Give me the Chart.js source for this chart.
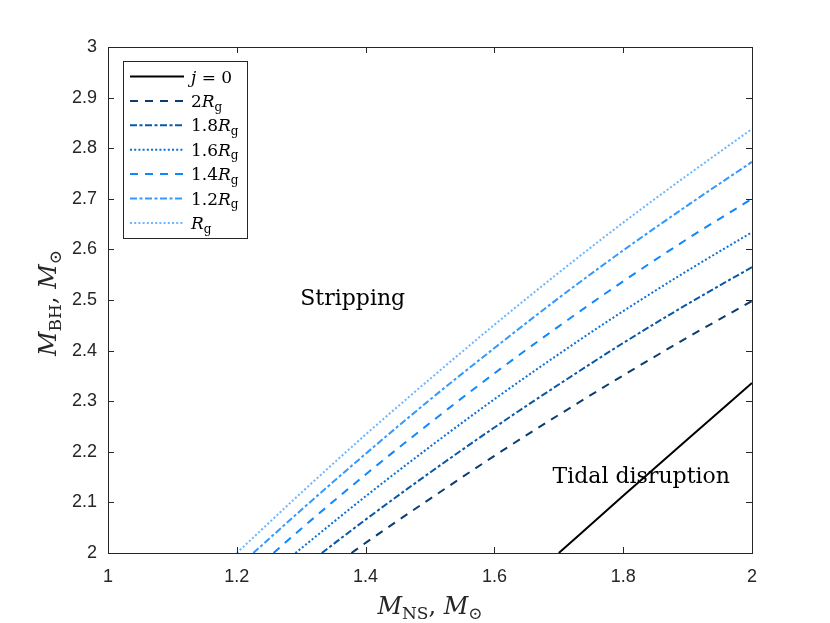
<!DOCTYPE html>
<html><head><meta charset="utf-8">
<script src="https://cdn.jsdelivr.net/npm/chart.js@4/dist/chart.umd.min.js"></script>
<style>html,body{margin:0;padding:0;background:#fff}</style>
</head><body>
<canvas id="c" width="830" height="623"></canvas>
<script>
const seriesLabels = ['j = 0', '2R_g', '1.8R_g', '1.6R_g', '1.4R_g', '1.2R_g', 'R_g'];
const x_j0   = [1.70, 1.80, 1.90, 2.00];
const y_j0   = [2.000, 2.113, 2.225, 2.336];
const x_2Rg  = [1.378, 1.4, 1.5, 1.6, 1.7, 1.8, 1.9, 2.0];
const y_2Rg  = [2.000, 2.020, 2.107, 2.192, 2.273, 2.351, 2.426, 2.498];
const x_18Rg = [1.332, 1.4, 1.5, 1.6, 1.7, 1.8, 1.9, 2.0];
const y_18Rg = [2.000, 2.066, 2.159, 2.248, 2.333, 2.415, 2.492, 2.565];
const x_16Rg = [1.291, 1.4, 1.5, 1.6, 1.7, 1.8, 1.9, 2.0];
const y_16Rg = [2.000, 2.112, 2.210, 2.304, 2.393, 2.478, 2.558, 2.634];
const x_14Rg = [1.257, 1.3, 1.4, 1.5, 1.6, 1.7, 1.8, 1.9, 2.0];
const y_14Rg = [2.000, 2.048, 2.155, 2.257, 2.355, 2.448, 2.537, 2.621, 2.700];
const x_12Rg = [1.2256, 1.3, 1.4, 1.5, 1.6, 1.7, 1.8, 1.9, 2.0];
const y_12Rg = [2.000, 2.085, 2.196, 2.303, 2.405, 2.504, 2.598, 2.687, 2.773];
const x_Rg   = [1.2, 1.3, 1.4, 1.5, 1.6, 1.7, 1.8, 1.9, 2.0];
const y_Rg   = [2.000, 2.119, 2.234, 2.344, 2.451, 2.554, 2.653, 2.747, 2.838];
const xTicks = [1, 1.2, 1.4, 1.6, 1.8, 2];
const yTicks = [2, 2.1, 2.2, 2.3, 2.4, 2.5, 2.6, 2.7, 2.8, 2.9, 3];
const xTitle = 'M_{NS}, M_⊙';
const yTitle = 'M_{BH}, M_⊙';
const regionLabels = ['Stripping', 'Tidal disruption'];

const AX = '#262626';
const SERIF = '"DejaVu Serif", "Liberation Serif", serif';

function pts(xs, ys){ return xs.map((x,i)=>({x:x, y:ys[i]})); }
const styles = [
  {c:'#000000', d:[]},
  {c:'#0b3d6e', d:[8,7]},
  {c:'#0a58a6', d:[7,2.5,3,2.5]},
  {c:'#0b70d8', d:[2,2.2]},
  {c:'#0f88ff', d:[8,7]},
  {c:'#3399ff', d:[7,2.5,3,2.5]},
  {c:'#6bb6ff', d:[2,2.2]}
];
const seriesData = [pts(x_j0,y_j0), pts(x_2Rg,y_2Rg), pts(x_18Rg,y_18Rg), pts(x_16Rg,y_16Rg), pts(x_14Rg,y_14Rg), pts(x_12Rg,y_12Rg), pts(x_Rg,y_Rg)];
const datasets = seriesData.map((d,i)=>({
  label: seriesLabels[i], data: d, showLine: true, pointRadius: 0,
  borderColor: styles[i].c, borderDash: styles[i].d, borderWidth: 2,
  fill: false, tension: 0.4, cubicInterpolationMode: 'monotone'
}));

function parseRich(s){
  const segs=[]; let i=0;
  while(i<s.length){
    const c=s[i];
    if(c==='_'){
      let t;
      if(s[i+1]==='{'){ const j=s.indexOf('}',i); t=s.slice(i+2,j); i=j+1; }
      else { t=s[i+1]; i+=2; }
      segs.push({t:t, italic:false, sub:true}); continue;
    }
    segs.push({t:c, italic:/[A-Za-z]/.test(c), sub:false}); i++;
  }
  return segs;
}
function drawRich(ctx, s, x, y, size, align){
  const segs=parseRich(s);
  const fontOf=g=>(g.italic?'italic ':'')+(g.sub?Math.round(size*0.7):size)+'px '+SERIF;
  let w=0;
  for(const g of segs){ ctx.font=fontOf(g); g.w=ctx.measureText(g.t).width; w+=g.w; }
  let cx = align==='center' ? x-w/2 : x;
  ctx.textAlign='left'; ctx.textBaseline='alphabetic';
  for(const g of segs){ ctx.font=fontOf(g); ctx.fillText(g.t, cx, g.sub? y+size*0.22 : y); cx+=g.w; }
}

const decor = {
  id:'decor',
  beforeDraw(chart){
    const ctx=chart.ctx; ctx.save(); ctx.fillStyle='#fff'; ctx.fillRect(0,0,chart.width,chart.height); ctx.restore();
  },
  afterDraw(chart){
    const ctx=chart.ctx, a=chart.chartArea, xs=chart.scales.x, ys=chart.scales.y;
    ctx.save();
    ctx.strokeStyle=AX; ctx.lineWidth=1; ctx.setLineDash([]);
    ctx.strokeRect(Math.round(a.left)+0.5, Math.round(a.top)+0.5, Math.round(a.right-a.left), Math.round(a.bottom-a.top));
    const tl=6;
    ctx.beginPath();
    for(const v of xTicks){ const p=Math.round(xs.getPixelForValue(v))+0.5;
      ctx.moveTo(p,a.bottom); ctx.lineTo(p,a.bottom-tl); ctx.moveTo(p,a.top); ctx.lineTo(p,a.top+tl); }
    for(const v of yTicks){ const p=Math.round(ys.getPixelForValue(v))+0.5;
      ctx.moveTo(a.left,p); ctx.lineTo(a.left+tl,p); ctx.moveTo(a.right,p); ctx.lineTo(a.right-tl,p); }
    ctx.stroke();
    ctx.fillStyle='#000';
    ctx.font='22px '+SERIF; ctx.textAlign='center'; ctx.textBaseline='middle';
    ctx.fillText(regionLabels[0], xs.getPixelForValue(1.380), ys.getPixelForValue(2.501));
    ctx.fillText(regionLabels[1], xs.getPixelForValue(1.828), ys.getPixelForValue(2.150));
    ctx.fillStyle=AX;
    drawRich(ctx, xTitle, (a.left+a.right)/2, 614, 24, 'center');
    ctx.save(); ctx.translate(56, (a.top+a.bottom)/2+3); ctx.rotate(-Math.PI/2);
    drawRich(ctx, yTitle, 0, 0, 24, 'center'); ctx.restore();
    const L=123, T=61, W=124, H=177;
    ctx.fillStyle='#fff'; ctx.fillRect(L,T,W,H);
    ctx.strokeStyle=AX; ctx.lineWidth=1; ctx.strokeRect(L+0.5,T+0.5,W,H);
    chart.data.datasets.forEach((ds,i)=>{
      const yc=T+15.5+i*24.4;
      ctx.strokeStyle=ds.borderColor; ctx.lineWidth=2; ctx.setLineDash(ds.borderDash||[]);
      ctx.beginPath(); ctx.moveTo(130,yc); ctx.lineTo(184,yc); ctx.stroke();
      ctx.setLineDash([]);
      ctx.fillStyle='#000';
      drawRich(ctx, ds.label, 191, yc+6, 17, 'left');
    });
    ctx.restore();
  }
};

new Chart(document.getElementById('c'), {
  type:'scatter',
  data:{datasets:datasets},
  options:{
    responsive:false, animation:false, devicePixelRatio:1,
    layout:{padding:{top:47,right:78,left:0,bottom:0}},
    plugins:{legend:{display:false}, tooltip:{enabled:false}},
    scales:{
      x:{type:'linear', min:1, max:2,
        afterBuildTicks:s=>{ s.ticks=xTicks.map(v=>({value:v})); },
        afterFit:s=>{ s.height=70; },
        grid:{display:false, drawTicks:false}, border:{display:false},
        ticks:{color:AX, padding:13, font:{family:'"Liberation Sans", Arial, sans-serif', size:18}, callback:v=>String(v)}},
      y:{type:'linear', min:2, max:3,
        afterBuildTicks:s=>{ s.ticks=yTicks.map(v=>({value:v})); },
        afterFit:s=>{ s.width=108; },
        grid:{display:false, drawTicks:false}, border:{display:false},
        ticks:{color:AX, padding:11, font:{family:'"Liberation Sans", Arial, sans-serif', size:18}, callback:v=>String(v)}}
    }
  },
  plugins:[decor]
});
</script>
</body></html>
